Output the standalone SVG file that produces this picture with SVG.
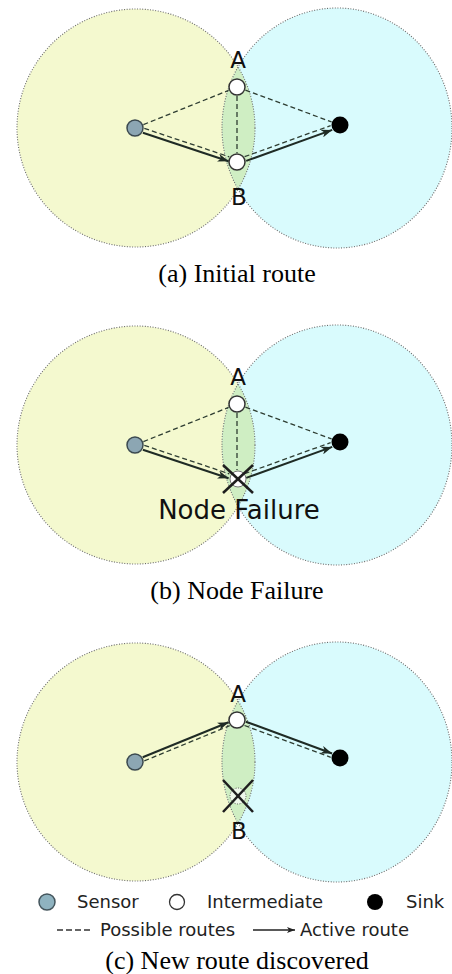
<svg xmlns="http://www.w3.org/2000/svg" width="452" height="974" viewBox="0 0 452 974">
<style>
.yel{fill:#f4f9cf}
.blu{fill:#d9fbfd}
.lens{fill:#cfeec3}
.range{fill:none;stroke:#6b6b6b;stroke-width:1.1;stroke-dasharray:1 1.6}
.dash{fill:none;stroke:#2e3d32;stroke-width:1.3;stroke-dasharray:5 3}
.act{fill:none;stroke:#1f2b25;stroke-width:2;marker-end:url(#arr)}
.sensor{fill:#8ca6b3;stroke:#3c4a50;stroke-width:1.5}
.inter{fill:#fff;stroke:#333;stroke-width:1.5}
.dead{fill:#fff;stroke:#777;stroke-width:1}
.gone{fill:#eef8ea;stroke:#555;stroke-width:1;stroke-dasharray:1 1.5}
.sink{fill:#000}
.cross{stroke:#1e1e1e;stroke-width:2.5}
.lbl{font-family:"DejaVu Sans",sans-serif;font-size:23px;fill:#111;text-anchor:middle}
.fail{font-family:"DejaVu Sans",sans-serif;font-size:26px;fill:#111;text-anchor:middle}
.cap{font-family:"Liberation Serif",serif;font-size:26px;fill:#000;text-anchor:middle}
.leg{font-family:"DejaVu Sans",sans-serif;font-size:18px;fill:#222}
</style>
<defs>
  <marker id="arr" markerWidth="12" markerHeight="8" refX="11" refY="4" orient="auto" markerUnits="userSpaceOnUse">
    <path d="M0,0 L11,4 L0,8 L3,4 z" fill="#1f2b25"/>
  </marker>
  <marker id="arrS" markerWidth="9" markerHeight="6" refX="8" refY="3" orient="auto" markerUnits="userSpaceOnUse">
    <path d="M0,0 L8,3 L0,6 L2,3 z" fill="#222"/>
  </marker>
  <clipPath id="leftRange"><circle cx="136" cy="128" r="119"/></clipPath>
  <!-- radio ranges of the two clusters and their overlap -->
  <g id="ranges">
    <circle class="yel" cx="136" cy="128" r="119"/>
    <ellipse class="blu" cx="337" cy="128" rx="115" ry="120"/>
    <ellipse class="lens" clip-path="url(#leftRange)" cx="337" cy="128" rx="115" ry="120"/>
    <circle class="range" cx="136" cy="128" r="119"/>
    <ellipse class="range" cx="337" cy="128" rx="115" ry="120"/>
  </g>
</defs>

<rect width="452" height="974" fill="#fff"/>

<!-- (a) initial route -->
<g id="panel-a">
  <use href="#ranges"/>
  <g id="a-connectors">
    <line class="dash" x1="143.4" y1="124.6" x2="228.6" y2="90.4"/>
    <line class="dash" x1="144.3" y1="128.4" x2="229.3" y2="156.8"/>
    <line class="dash" x1="237" y1="96" x2="237" y2="153"/>
    <line class="dash" x1="245.4" y1="90.1" x2="331.6" y2="121.9"/>
    <line class="dash" x1="244.6" y1="156.7" x2="330.6" y2="125.6"/>
    <line class="act" x1="142.9" y1="132.7" x2="228.6" y2="161.2"/>
    <line class="act" x1="246.2" y1="160.9" x2="332.2" y2="129.9"/>
  </g>
  <g id="a-sensor"><circle class="sensor" cx="135" cy="128" r="8"/></g>
  <g id="a-A"><circle class="inter" cx="237" cy="87" r="8"/><text class="lbl" x="238" y="68">A</text></g>
  <g id="a-B"><circle class="inter" cx="237" cy="162" r="8"/><text class="lbl" x="239" y="205">B</text></g>
  <g id="a-sink"><circle class="sink" cx="340" cy="125" r="8.5"/></g>
  <text class="cap" x="237" y="282">(a) Initial route</text>
</g>

<!-- (b) node B fails -->
<g id="panel-b" transform="translate(0,317)">
  <use href="#ranges"/>
  <g id="b-connectors">
    <line class="dash" x1="143.4" y1="124.6" x2="228.6" y2="90.4"/>
    <line class="dash" x1="144.3" y1="128.4" x2="229.3" y2="156.8"/>
    <line class="dash" x1="237" y1="96" x2="237" y2="153"/>
    <line class="dash" x1="245.4" y1="90.1" x2="331.6" y2="121.9"/>
    <line class="dash" x1="244.6" y1="156.7" x2="330.6" y2="125.6"/>
    <line class="act" x1="142.9" y1="132.7" x2="228.6" y2="161.2"/>
    <line class="act" x1="246.2" y1="160.9" x2="332.2" y2="129.9"/>
  </g>
  <g id="b-sensor"><circle class="sensor" cx="135" cy="128" r="8"/></g>
  <g id="b-A"><circle class="inter" cx="237" cy="87" r="8"/><text class="lbl" x="238" y="68">A</text></g>
  <g id="b-B">
    <circle class="dead" cx="238" cy="162" r="8"/>
    <line class="cross" x1="223" y1="148" x2="253" y2="176"/>
    <line class="cross" x1="253" y1="148" x2="223" y2="176"/>
  </g>
  <g id="b-sink"><circle class="sink" cx="340" cy="125" r="8.5"/></g>
  <text class="fail" x="239" y="202">Node Failure</text>
  <text class="cap" x="237" y="282">(b) Node Failure</text>
</g>

<!-- (c) traffic rerouted through A -->
<g id="panel-c" transform="translate(0,634)">
  <use href="#ranges"/>
  <g id="c-connectors">
    <line class="dash" x1="144.3" y1="126.9" x2="229.7" y2="91.7"/>
    <line class="dash" x1="244.5" y1="91.5" x2="330.7" y2="123.3"/>
    <line class="act" x1="142.7" y1="123.2" x2="228.6" y2="88.2"/>
    <line class="act" x1="245.9" y1="87.7" x2="332.1" y2="119.5"/>
  </g>
  <g id="c-sensor"><circle class="sensor" cx="135" cy="128" r="8"/></g>
  <g id="c-A"><circle class="inter" cx="237" cy="86" r="8"/><text class="lbl" x="238" y="68">A</text></g>
  <g id="c-B">
    <circle class="gone" cx="238" cy="162" r="8"/>
    <line class="cross" x1="223" y1="146" x2="253" y2="178"/>
    <line class="cross" x1="253" y1="146" x2="223" y2="178"/>
    <text class="lbl" x="239" y="205">B</text>
  </g>
  <g id="c-sink"><circle class="sink" cx="340" cy="124" r="8.5"/></g>
</g>

<!-- legend -->
<g id="legend">
  <circle cx="47" cy="902" r="8" fill="#8fb3c0" stroke="#44555c" stroke-width="1.5"/>
  <text class="leg" x="77" y="908">Sensor</text>
  <circle cx="177" cy="902" r="7.5" fill="#fff" stroke="#333" stroke-width="1.3"/>
  <text class="leg" x="207" y="908">Intermediate</text>
  <circle cx="375" cy="902" r="8" fill="#000"/>
  <text class="leg" x="406" y="908">Sink</text>
  <line x1="57" y1="930" x2="92" y2="930" stroke="#333" stroke-width="1.3" stroke-dasharray="6 3"/>
  <text class="leg" x="100" y="936">Possible routes</text>
  <line x1="253" y1="930" x2="295" y2="930" stroke="#222" stroke-width="1.3" marker-end="url(#arrS)"/>
  <text class="leg" x="300" y="936">Active route</text>
</g>

<text class="cap" x="237" y="969">(c) New route discovered</text>
</svg>
